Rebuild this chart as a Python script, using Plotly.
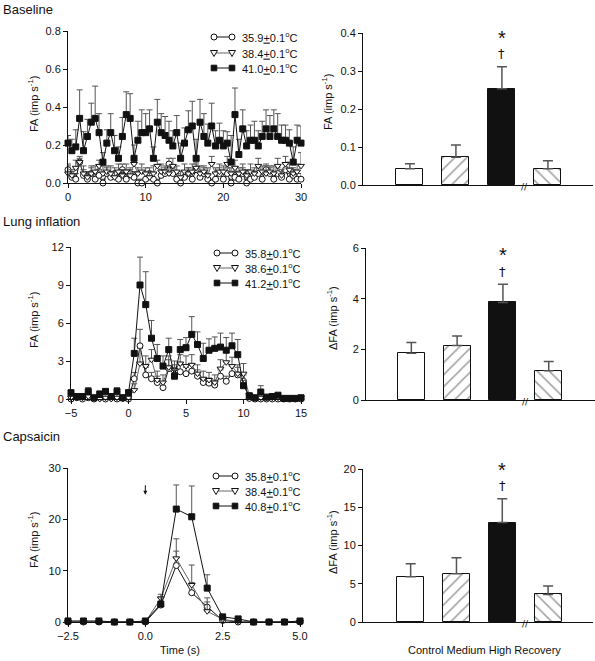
import plotly.graph_objects as go

# ---------------- DATA ----------------
# Baseline (time 0..30 s, step 0.5)
base_time = [i * 0.5 for i in range(61)]
base_low = [0.07,0.03,0.02,0.11,0.04,0.02,0.05,0.02,0.04,0.0,0.05,0.03,0.05,0.02,0.07,0.02,0.05,0.03,0.0,0.0,
            0.02,0.05,0.02,0.0,0.04,0.05,0.1,0.05,0.02,0.0,0.03,0.05,0.02,0.07,0.03,0.05,0.02,0.0,0.02,0.05,
            0.02,0.05,0.0,0.03,0.02,0.05,0.0,0.02,0.03,0.05,0.02,0.07,0.05,0.02,0.05,0.03,0.07,0.02,0.04,0.02,0.02]
base_low_err = [0.03,0.03,0.03,0.03,0.03,0.03,0.03,0.03,0.03,0.02,0.03,0.03,0.03,0.03,0.03,0.03,0.03,0.03,0.02,0.02,
                0.03,0.03,0.03,0.02,0.03,0.03,0.03,0.03,0.03,0.02,0.03,0.03,0.03,0.03,0.03,0.03,0.03,0.02,0.03,0.03,
                0.03,0.03,0.02,0.03,0.03,0.03,0.02,0.03,0.03,0.03,0.03,0.03,0.03,0.03,0.03,0.03,0.03,0.03,0.03,0.03,0.03]
base_mid = [0.05,0.04,0.08,0.11,0.05,0.03,0.05,0.06,0.09,0.05,0.06,0.05,0.03,0.06,0.04,0.06,0.04,0.1,0.05,0.06,
            0.05,0.03,0.05,0.09,0.06,0.06,0.05,0.09,0.06,0.03,0.06,0.05,0.06,0.08,0.05,0.06,0.04,0.1,0.05,0.06,
            0.06,0.1,0.05,0.08,0.05,0.06,0.04,0.06,0.05,0.09,0.06,0.05,0.06,0.05,0.09,0.04,0.1,0.07,0.05,0.06,0.09]
base_mid_err = [0.04,0.03,0.04,0.02,0.04,0.03,0.04,0.03,0.03,0.04,0.03,0.04,0.03,0.04,0.03,0.04,0.03,0.04,0.03,0.04,
                0.03,0.03,0.04,0.03,0.04,0.03,0.04,0.04,0.03,0.03,0.04,0.03,0.04,0.03,0.04,0.03,0.04,0.04,0.03,0.04,
                0.03,0.04,0.03,0.04,0.03,0.04,0.03,0.04,0.03,0.04,0.03,0.04,0.03,0.04,0.04,0.03,0.04,0.04,0.03,0.04,0.07]
base_high = [0.21,0.17,0.19,0.34,0.17,0.245,0.32,0.34,0.265,0.11,0.21,0.265,0.17,0.13,0.245,0.36,0.34,0.13,0.225,0.265,
             0.265,0.285,0.13,0.32,0.265,0.25,0.225,0.195,0.265,0.13,0.21,0.28,0.30,0.13,0.32,0.245,0.21,0.30,0.195,0.225,
             0.195,0.21,0.11,0.36,0.15,0.285,0.195,0.225,0.225,0.195,0.245,0.285,0.245,0.285,0.245,0.225,0.225,0.21,0.11,0.225,0.21]
base_high_err = [0.04,0.06,0.09,0.15,0.1,0.09,0.1,0.17,0.1,0.05,0.07,0.1,0.08,0.06,0.1,0.12,0.13,0.07,0.1,0.12,
                 0.1,0.1,0.06,0.12,0.1,0.1,0.1,0.08,0.09,0.08,0.08,0.1,0.13,0.1,0.12,0.12,0.1,0.12,0.08,0.09,
                 0.08,0.06,0.14,0.14,0.08,0.1,0.08,0.08,0.1,0.08,0.08,0.1,0.11,0.1,0.12,0.08,0.08,0.07,0.08,0.08,0.09]

# Lung inflation (time -5..15 s, step 0.5)
lung_time = [-5 + i * 0.5 for i in range(41)]
lung_low = [0.0,0.1,0.0,0.1,0.0,0.1,0.0,0.1,0.0,0.1,0.0,
            1.6,4.2,1.9,1.6,1.3,0.9,2.4,1.9,2.15,2.0,2.2,1.8,1.3,1.25,1.1,1.8,1.4,2.0,1.9,1.4,
            0.05,0.0,0.0,0.0,0.0,0.0,0.0,0.0,0.0,0.0]
lung_low_err = [0.05,0.05,0.05,0.05,0.05,0.05,0.05,0.05,0.05,0.05,0.05,
                0.5,1.3,0.6,0.5,0.5,0.4,0.7,0.6,0.6,0.5,0.6,0.5,0.4,0.4,0.4,0.5,0.4,0.6,0.6,0.5,
                0.05,0.05,0.05,0.05,0.05,0.05,0.05,0.05,0.05,0.05]
lung_mid = [0.1,0.1,0.1,0.2,0.1,0.0,0.1,0.0,0.1,0.0,0.1,
            0.7,2.8,2.6,3.1,1.5,1.3,2.5,2.3,2.8,2.6,2.7,2.0,1.6,1.5,1.3,2.4,2.9,2.6,2.0,2.0,
            0.3,0.1,0.1,0.1,0.1,0.1,0.0,0.1,0.0,0.1]
lung_mid_err = [0.1,0.1,0.1,0.2,0.1,0.1,0.1,0.1,0.1,0.1,0.1,
                0.5,1.2,0.8,0.8,0.7,0.6,0.9,0.7,0.7,0.8,0.8,0.7,0.6,0.6,0.6,0.7,0.8,0.7,0.7,0.8,
                0.2,0.1,0.1,0.1,0.1,0.1,0.1,0.1,0.1,0.1]
lung_high = [0.5,0.2,0.2,0.6,0.1,0.4,0.6,0.2,0.6,0.1,0.5,
             3.6,9.0,7.45,4.8,3.2,2.6,3.9,1.8,3.9,4.05,5.1,4.3,3.2,3.85,4.0,4.1,3.85,4.2,3.5,1.05,
             0.25,0.1,0.55,0.15,0.2,0.3,0.05,0.05,0.05,0.1]
lung_high_err = [0.1,0.1,0.1,0.3,0.1,0.1,0.2,0.1,0.3,0.1,0.2,
                 1.2,2.2,2.6,1.4,1.1,0.8,0.9,0.9,0.8,0.8,1.4,1.0,1.2,0.9,0.9,1.1,1.0,1.0,1.2,0.4,
                 0.2,0.1,0.5,0.1,0.1,0.1,0.05,0.05,0.05,0.1]

# Capsaicin (time -2.5..5.0 s, step 0.5)
caps_time = [-2.5 + i * 0.5 for i in range(16)]
caps_low = [0,0,0,0,0,0,3.3,11.0,5.7,2.9,0.3,0.0,0,0,0,0]
caps_low_err = [0,0,0,0,0,0,1.5,2.8,2.0,1.8,0,0,0,0,0,0]
caps_mid = [0,0,0,0,0,0,4.6,12.4,7.2,2.1,0.5,0.1,0,0,0,0]
caps_mid_err = [0,0,0,0,0,0,0.8,3.8,3.9,1.8,0,0,0,0,0,0]
caps_high = [0.2,0.2,0.2,0.0,0.0,0.2,3.5,22.0,20.5,6.6,1.0,0.6,0.0,0.0,0.0,0.2]
caps_high_err = [0,0,0,0,0,0,1.4,4.7,6.0,2.6,0,0,0,0,0,0]

# Legend labels
base_labels = ["35.9<u>+</u>0.1<sup>o</sup>C", "38.4<u>+</u>0.1<sup>o</sup>C", "41.0<u>+</u>0.1<sup>o</sup>C"]
lung_labels = ["35.8<u>+</u>0.1<sup>o</sup>C", "38.6<u>+</u>0.1<sup>o</sup>C", "41.2<u>+</u>0.1<sup>o</sup>C"]
caps_labels = ["35.8<u>+</u>0.1<sup>o</sup>C", "38.4<u>+</u>0.1<sup>o</sup>C", "40.8<u>+</u>0.1<sup>o</sup>C"]

# Bar charts
bar_groups = ["Control", "Medium", "High", "Recovery"]
base_bar_mean = [0.043, 0.073, 0.253, 0.043]
base_bar_err = [0.013, 0.032, 0.058, 0.021]
lung_bar_mean = [1.85, 2.15, 3.85, 1.15]
lung_bar_err = [0.42, 0.38, 0.72, 0.37]
caps_bar_mean = [5.9, 6.3, 13.0, 3.6]
caps_bar_err = [1.7, 2.1, 3.1, 1.1]

inflation_period = [0, 10]
injection_time = 0.0

# ---------------- LAYOUT HELPERS ----------------
W, H = 595, 661
FONT = "Liberation Sans, Arial, Helvetica, sans-serif"
INK = "#111"


def xd(a, b):
    return [a / W, b / W]


def yd(top, bottom):
    return [1 - bottom / H, 1 - top / H]


axis_common = dict(showline=True, linecolor=INK, linewidth=1, ticks="outside", ticklen=4,
                   tickwidth=1, tickcolor=INK, showgrid=False, zeroline=False, automargin=False,
                   tickfont=dict(size=11, color=INK, family=FONT))

fig = go.Figure()

series_styles = [
    dict(symbol="circle", fill="white", lcolor=INK),
    dict(symbol="triangle-down", fill="white", lcolor="#666"),
    dict(symbol="square", fill=INK, lcolor=INK),
]


def add_series(xs, ys, errs, names, xa, ya, ecolor="#555"):
    for y, e, name, st in zip(ys, errs, names, series_styles):
        fig.add_trace(go.Scatter(
            x=xs, y=y, mode="lines+markers", name=name, showlegend=False,
            xaxis=xa, yaxis=ya, cliponaxis=False,
            line=dict(color=st["lcolor"], width=1),
            marker=dict(symbol=st["symbol"], size=6, color=st["fill"],
                        line=dict(color=INK, width=1)),
            error_y=dict(type="data", symmetric=False, array=e, arrayminus=[0] * len(e),
                         color=ecolor, thickness=1, width=3),
        ))


def add_bars(means, errs, xa, ya):
    fig.add_trace(go.Bar(
        x=list(range(len(bar_groups))), y=means, xaxis=xa, yaxis=ya, showlegend=False,
        width=0.59,
        marker=dict(color=["white", "white", INK, "white"],
                    line=dict(color=INK, width=1),
                    pattern=dict(shape=["", "/", "", "\\"], fgcolor="#000", bgcolor="white",
                                 size=8.5, solidity=0.18)),
        error_y=dict(type="data", symmetric=False, array=errs, arrayminus=[0] * len(errs),
                     color="#555", thickness=1.5, width=5),
        hovertext=bar_groups, hoverinfo="text+y",
    ))


add_series(base_time, [base_low, base_mid, base_high], [base_low_err, base_mid_err, base_high_err],
           base_labels, "x", "y")
add_bars(base_bar_mean, base_bar_err, "x2", "y2")
add_series(lung_time, [lung_low, lung_mid, lung_high], [lung_low_err, lung_mid_err, lung_high_err],
           lung_labels, "x3", "y3")
add_bars(lung_bar_mean, lung_bar_err, "x4", "y4")
add_series(caps_time, [caps_low, caps_mid, caps_high], [caps_low_err, caps_mid_err, caps_high_err],
           caps_labels, "x5", "y5")
add_bars(caps_bar_mean, caps_bar_err, "x6", "y6")

bar_x = dict(axis_common, showticklabels=False, ticks="")

layout = dict(
    width=W, height=H, margin=dict(l=0, r=0, t=0, b=0, pad=0, autoexpand=False),
    paper_bgcolor="white", plot_bgcolor="rgba(0,0,0,0)",
    font=dict(family=FONT, size=11, color=INK),
    bargap=0, showlegend=False,
    xaxis=dict(axis_common, domain=xd(68, 301), anchor="y", range=[0, 30], dtick=10),
    yaxis=dict(axis_common, domain=yd(31, 183), anchor="x", range=[0, 0.8], dtick=0.2, tickformat=".1f"),
    xaxis2=dict(bar_x, domain=xd(363, 593), anchor="y2", range=[-1.02, 3.98]),
    yaxis2=dict(axis_common, domain=yd(33, 185), anchor="x2", range=[0, 0.4], dtick=0.1, tickformat=".1f"),
    xaxis3=dict(axis_common, domain=xd(71, 301), anchor="y3", range=[-5, 15], dtick=5),
    yaxis3=dict(axis_common, domain=yd(247, 399), anchor="x3", range=[0, 12], dtick=3),
    xaxis4=dict(bar_x, domain=xd(366, 595), anchor="y4", range=[-0.99, 4.01]),
    yaxis4=dict(axis_common, domain=yd(248, 400), anchor="x4", range=[0, 6], dtick=2),
    xaxis5=dict(axis_common, domain=xd(68, 300), anchor="y5", range=[-2.5, 5.0], dtick=2.5, tickformat=".1f"),
    yaxis5=dict(axis_common, domain=yd(468, 622), anchor="x5", range=[0, 30], dtick=10),
    xaxis6=dict(bar_x, domain=xd(363, 593), anchor="y6", range=[-1.04, 3.98]),
    yaxis6=dict(axis_common, domain=yd(469, 622), anchor="x6", range=[0, 20], dtick=5),
)
fig.update_layout(**layout)

ann = []
shapes = []

# panel titles
for txt, ypx in [("Baseline", 9), ("Lung inflation", 222), ("Capsaicin", 436)]:
    ann.append(dict(text=txt, x=1 / W, y=1 - ypx / H, xref="paper", yref="paper", xanchor="left",
                    yanchor="middle", showarrow=False, font=dict(size=13, family=FONT, color=INK)))
# y-axis titles
for txt, xpx, ypx in [("FA (imp s<sup>-1</sup>)", 33, 104), ("FA (imp s<sup>-1</sup>)", 327, 102),
                      ("FA (imp s<sup>-1</sup>)", 33, 320), ("\u0394FA (imp s<sup>-1</sup>)", 332, 318),
                      ("FA (imp s<sup>-1</sup>)", 33, 540), ("\u0394FA (imp s<sup>-1</sup>)", 332, 542)]:
    ann.append(dict(text=txt, x=xpx / W, y=1 - ypx / H, xref="paper", yref="paper", textangle=-90,
                    showarrow=False, xanchor="center", yanchor="middle",
                    font=dict(size=11, family=FONT, color=INK)))
ann.append(dict(text="Time (s)", x=180 / W, y=1 - 650 / H, xref="paper", yref="paper", showarrow=False,
                xanchor="center", yanchor="middle", font=dict(size=11, family=FONT, color=INK)))
ann.append(dict(text="Control Medium High Recovery", x=484 / W, y=1 - 650 / H, xref="paper", yref="paper",
                xanchor="center", yanchor="middle", showarrow=False,
                font=dict(size=11, family=FONT, color=INK)))

# significance marks and axis breaks on bar charts
for xa, ya, means, errs in [("x2", "y2", base_bar_mean, base_bar_err),
                            ("x4", "y4", lung_bar_mean, lung_bar_err),
                            ("x6", "y6", caps_bar_mean, caps_bar_err)]:
    top = means[2] + errs[2]
    ann.append(dict(text="\u2020", x=2, y=top, xref=xa, yref=ya, showarrow=False, yshift=13,
                    font=dict(size=13, family="DejaVu Sans", color=INK)))
    ann.append(dict(text="*", x=2, y=top, xref=xa, yref=ya, showarrow=False, yshift=29,
                    font=dict(size=20, family=FONT, color=INK)))
    ann.append(dict(text="//", x=2.5, y=0, xref=xa, yref=ya, showarrow=False, yshift=-2,
                    font=dict(size=9, family="DejaVu Sans", color=INK)))

# capsaicin injection arrow
ann.append(dict(x=injection_time, y=24.8, xref="x5", yref="y5", ax=0, ay=-11, showarrow=True,
                arrowhead=2, arrowsize=0.8, arrowwidth=1, arrowcolor=INK, text=""))

# inflation period bar
for x0, x1, y0, y1 in [(inflation_period[0], inflation_period[1], 12.35, 12.35),
                       (inflation_period[0], inflation_period[0], 12.15, 12.55),
                       (inflation_period[1], inflation_period[1], 12.15, 12.55)]:
    shapes.append(dict(type="line", xref="x3", yref="y3", x0=x0, x1=x1, y0=y0, y1=y1,
                       line=dict(color=INK, width=1)))


# legend keys (o—o style, marker at both ends), drawn in paper space
def legend_key(labels, line_x0, line_x1, text_x, rows_y):
    for label, st, ypx in zip(labels, series_styles, rows_y):
        yp = 1 - ypx / H
        shapes.append(dict(type="line", xref="paper", yref="paper", x0=line_x0 / W, x1=line_x1 / W,
                           y0=yp, y1=yp, line=dict(color=st["lcolor"], width=1)))
        for xpx in (line_x0, line_x1):
            common = dict(xref="paper", yref="paper", xsizemode="pixel", ysizemode="pixel",
                          xanchor=xpx / W, yanchor=yp, fillcolor=st["fill"], line=dict(color=INK, width=1))
            if st["symbol"] == "circle":
                shapes.append(dict(common, type="circle", x0=-3, x1=3, y0=-3, y1=3))
            elif st["symbol"] == "square":
                shapes.append(dict(common, type="rect", x0=-2.8, x1=2.8, y0=-2.8, y1=2.8))
            else:
                shapes.append(dict(common, type="path", path="M -3.5,2.5 L 3.5,2.5 L 0,-3.5 Z"))
        ann.append(dict(text=label, x=text_x / W, y=yp, xref="paper", yref="paper", xanchor="left",
                        yanchor="middle", showarrow=False, font=dict(size=11, family=FONT, color=INK)))


legend_key(base_labels, 214, 232, 240, [37, 53, 68])
legend_key(lung_labels, 217, 235, 243, [253, 268, 283])
legend_key(caps_labels, 216, 235, 243, [476, 491, 506])

fig.update_layout(annotations=ann, shapes=shapes)

fig.write_html("out.html", config={"displayModeBar": False},
               post_script="document.body.style.margin='0';document.body.style.overflow='hidden';")
